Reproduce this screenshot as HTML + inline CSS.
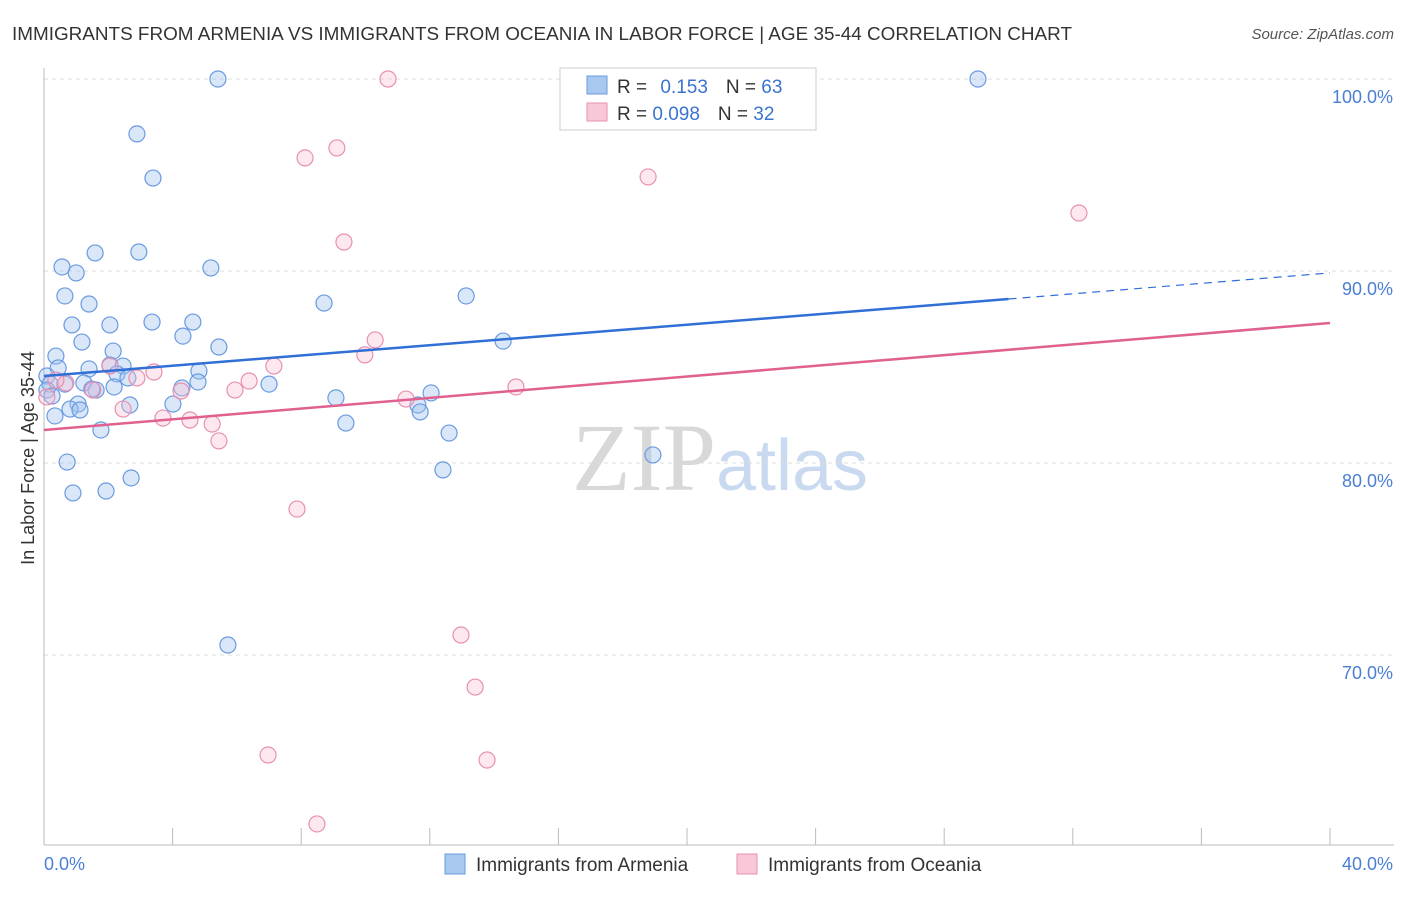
<!DOCTYPE html>
<html><head><meta charset="utf-8"><style>
body{margin:0;background:#fff;font-family:"Liberation Sans",sans-serif;}
svg text{font-family:"Liberation Sans",sans-serif;}
</style></head><body>
<svg id="chart" width="1406" height="892" xmlns="http://www.w3.org/2000/svg">
<text x="12" y="40" font-size="18" fill="#333" textLength="1060" lengthAdjust="spacingAndGlyphs">IMMIGRANTS FROM ARMENIA VS IMMIGRANTS FROM OCEANIA IN LABOR FORCE | AGE 35-44 CORRELATION CHART</text>
<text x="1394" y="39" font-size="15" fill="#555" text-anchor="end" font-style="italic">Source: ZipAtlas.com</text>
<text x="720" y="490" font-size="96" text-anchor="middle"><tspan fill="#d8d8d8" font-family="Liberation Serif">ZIP</tspan><tspan fill="#c9daf0" font-size="72">atlas</tspan></text>
<g id="grid"></g>
<g id="axes"></g>
<g id="pts"></g>
<g id="lines"></g>
<text transform="translate(34,458) rotate(-90)" font-size="18" fill="#333" text-anchor="middle">In Labor Force | Age 35-44</text>
<text x="44" y="870" font-size="18" fill="#4a7fd4">0.0%</text>
<text x="1393" y="870" font-size="18" fill="#4a7fd4" text-anchor="end">40.0%</text>
<g>
<rect x="560" y="68" width="256" height="62" fill="#fff" stroke="#ccc"/>
<rect x="587" y="76" width="20" height="18" fill="#a8c8f0" stroke="#6a9ae0"/>
<rect x="587" y="103" width="20" height="18" fill="#f8c8d8" stroke="#e890b0"/>
<text x="617" y="93" font-size="19" fill="#333">R = <tspan fill="#3a74d0" dx="8">0.153</tspan><tspan dx="18">N = </tspan><tspan fill="#3a74d0">63</tspan></text>
<text x="617" y="120" font-size="19" fill="#333">R = <tspan fill="#3a74d0">0.098</tspan><tspan dx="18">N = </tspan><tspan fill="#3a74d0">32</tspan></text>
</g>
<g>
<rect x="445" y="854" width="20" height="20" fill="#a8c8f0" stroke="#6a9ae0"/>
<text x="476" y="871" font-size="19" fill="#333">Immigrants from Armenia</text>
<rect x="737" y="854" width="20" height="20" fill="#f8c8d8" stroke="#e890b0"/>
<text x="768" y="871" font-size="19" fill="#333">Immigrants from Oceania</text>
</g>
</svg>
<script>
const blueX=[5.41,29.05,2.89,3.39,0.56,1.0,1.59,2.95,5.19,0.65,1.40,8.71,13.13,0.87,2.05,3.36,4.63,4.32,1.18,5.44,14.28,0.37,2.15,0.44,1.40,2.05,2.46,4.82,2.27,2.61,0.09,0.19,0.65,1.24,1.62,2.18,1.49,4.29,4.79,7.00,9.08,12.04,0.09,0.25,1.06,0.81,1.12,2.67,4.01,11.63,11.70,0.34,9.39,1.77,12.60,0.72,12.41,2.71,0.90,1.93,18.94,5.72];
const blueY=[100,100,97.14,94.84,90.21,89.90,90.94,90.99,90.16,88.70,88.28,88.33,88.70,87.19,87.19,87.34,87.34,86.61,86.30,86.04,86.35,85.57,85.83,84.95,84.90,85.10,85.05,84.79,84.64,84.43,84.53,84.11,84.11,84.17,83.80,83.96,83.85,83.91,84.22,84.11,83.39,83.65,83.80,83.49,83.07,82.81,82.76,83.02,83.07,83.02,82.66,82.45,82.08,81.72,81.56,80.05,79.64,79.22,78.44,78.54,80.42,70.52];
const pinkX=[10.70,8.12,9.11,18.79,32.19,9.33,10.30,9.98,7.15,3.42,2.89,6.38,5.94,2.05,1.52,4.26,14.68,0.68,0.37,0.09,11.26,2.46,3.70,4.54,5.23,5.44,7.87,12.97,13.41,6.97,13.78,8.49];
const pinkY=[100,95.89,96.41,94.90,93.02,91.51,86.41,85.63,85.05,84.74,84.43,84.27,83.80,85.05,83.80,83.75,83.96,84.17,84.32,83.44,83.33,82.81,82.34,82.24,82.03,81.15,77.60,71.04,68.33,64.79,64.53,61.20];
const blueLine=[84.53,88.54,89.9]; // at x=0, 30, 40
const pinkLine=[81.72,87.29]; // at x=0, 40
const yTicks=[100,90,80,70];
const xTicks=[0,4,8,12,16,20,24,28,32,36,40];
const NS="http://www.w3.org/2000/svg";
const sx=v=>44+v*32.15, sy=v=>79+(100-v)*19.2;
function mk(p,t,a){const e=document.createElementNS(NS,t);for(const k in a)e.setAttribute(k,a[k]);document.getElementById(p).appendChild(e);return e;}
yTicks.forEach(t=>{
 const l=mk('grid','line',{x1:44,x2:1394,y1:sy(t),y2:sy(t),stroke:'#ddd','stroke-dasharray':'4,4'});
 
 
 const tx=mk('grid','text',{x:1393,y:sy(t)+24,'font-size':18,fill:'#4a7fd4','text-anchor':'end'});
 tx.textContent=t.toFixed(1)+'%';
 
 
});
const ya=mk('axes','line',{x1:44,x2:44,y1:68,y2:845,stroke:'#bbb'});


const xa=mk('axes','line',{x1:44,x2:1394,y1:845,y2:845,stroke:'#bbb'});


xTicks.forEach(t=>{
 const l=mk('axes','line',{x1:sx(t),x2:sx(t),y1:828,y2:845,stroke:'#bbb'});
 
 
});
blueX.forEach((x,i)=>{
 const c=mk('pts','circle',{cx:sx(x),cy:sy(blueY[i]),r:8,fill:'rgba(160,195,240,0.4)',stroke:'#6a9ae0','stroke-width':1.2});
 
 
});
pinkX.forEach((x,i)=>{
 const c=mk('pts','circle',{cx:sx(x),cy:sy(pinkY[i]),r:8,fill:'rgba(248,190,210,0.35)',stroke:'#e890b0','stroke-width':1.2});
 
 
});
const b1=mk('lines','line',{x1:sx(0),y1:sy(blueLine[0]),x2:sx(30),y2:sy(blueLine[1]),stroke:'#2f6fd6','stroke-width':2.5});


const b2=mk('lines','line',{x1:sx(30),y1:sy(blueLine[1]),x2:sx(40),y2:sy(blueLine[2]),stroke:'#2f6fd6','stroke-width':1.2,'stroke-dasharray':'8,6'});


const p1=mk('lines','line',{x1:sx(0),y1:sy(pinkLine[0]),x2:sx(40),y2:sy(pinkLine[1]),stroke:'#e0608f','stroke-width':2.5});


</script>
</body></html>
